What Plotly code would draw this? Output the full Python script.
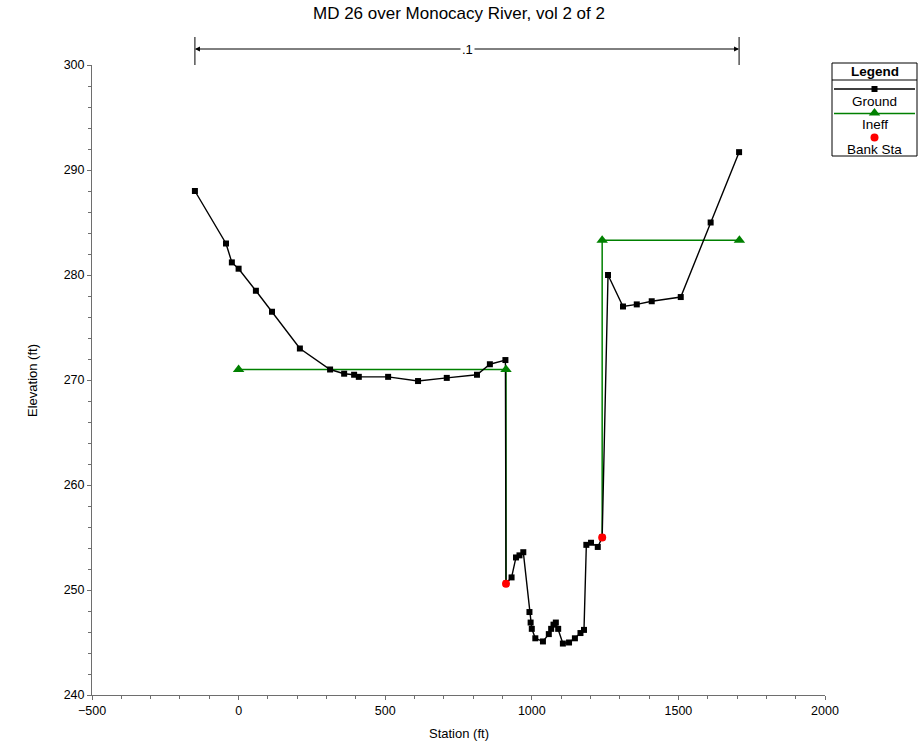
import plotly.graph_objects as go

# ---------------- data ----------------
station = [-149, -43, -23, 0, 59, 114, 209, 312, 360, 394, 410, 510, 612, 710, 813, 857, 910,
           912, 931, 946, 958, 971, 992, 996, 1000, 1012, 1038, 1058, 1066, 1074, 1082, 1090,
           1106, 1127, 1147, 1166, 1178, 1186, 1202, 1225, 1240, 1260, 1311, 1358, 1409, 1508,
           1610, 1707]
elevation = [288.0, 283.0, 281.2, 280.6, 278.5, 276.5, 273.0, 271.0, 270.6, 270.5, 270.3, 270.3,
             269.9, 270.2, 270.5, 271.5, 271.9,
             250.6, 251.2, 253.1, 253.3, 253.6, 247.9, 246.9, 246.3, 245.4, 245.1, 245.8, 246.3,
             246.7, 246.9, 246.3,
             244.9, 245.0, 245.4, 245.9, 246.2, 254.3, 254.5, 254.1, 255.0, 280.0, 277.0, 277.2,
             277.5, 277.9, 285.0, 291.7]
bank_sta = [912, 1240]
bank_elev = [250.6, 255.0]
ineff_left_sta = [0, 912]
ineff_left_elev = 271.0
ineff_right_sta = [1240, 1708]
ineff_right_elev = 283.3
mann_label = ".1"
title = "MD 26 over Monocacy River, vol 2 of 2"
x_title = "Station (ft)"
y_title = "Elevation (ft)"

# ---------------- layout helpers (pixel -> paper) ----------------
W, H = 919, 746
ML, MT, MB = 92, 65, 51
PW, PH = W - ML, H - MT - MB
PLOT_R = 825


def PX(p):
    return (p - ML) / PW


def PY(p):
    return (H - MB - p) / PH


FONT = "Liberation Sans, Arial, sans-serif"
GREEN = "#008000"

fig = go.Figure()

# ineffective flow lines (drop to bank elevation)
ix = [ineff_left_sta[0], ineff_left_sta[1], ineff_left_sta[1], None,
      ineff_right_sta[0], ineff_right_sta[0], ineff_right_sta[1]]
iy = [ineff_left_elev, ineff_left_elev, bank_elev[0], None,
      bank_elev[1], ineff_right_elev, ineff_right_elev]
fig.add_trace(go.Scatter(x=ix, y=iy, mode="lines", line=dict(color=GREEN, width=1.5),
                         showlegend=False, hoverinfo="skip"))

# ground
fig.add_trace(go.Scatter(x=station, y=elevation, mode="lines+markers",
                         line=dict(color="black", width=1.4),
                         marker=dict(symbol="square", size=6, color="black"),
                         name="Ground", showlegend=False))

# ineff markers
fig.add_trace(go.Scatter(x=ineff_left_sta + ineff_right_sta,
                         y=[ineff_left_elev] * 2 + [ineff_right_elev] * 2,
                         mode="markers",
                         marker=dict(symbol="triangle-up", size=10, color=GREEN),
                         name="Ineff", showlegend=False))

# bank stations
fig.add_trace(go.Scatter(x=bank_sta, y=bank_elev, mode="markers",
                         marker=dict(symbol="circle", size=8, color="red"),
                         name="Bank Sta", showlegend=False))

# ---------------- legend (custom) ----------------
LX0, LX1 = 832, 917
LXC = (LX0 + LX1) / 2
fig.add_trace(go.Scatter(x=[LX0 + 2, LX1 - 2], y=[89, 89], mode="lines",
                         line=dict(color="black", width=1.4), xaxis="x2", yaxis="y2",
                         showlegend=False, hoverinfo="skip"))
fig.add_trace(go.Scatter(x=[LXC], y=[89], mode="markers",
                         marker=dict(symbol="square", size=6, color="black"),
                         xaxis="x2", yaxis="y2", showlegend=False, hoverinfo="skip"))
fig.add_trace(go.Scatter(x=[LX0 + 2, LX1 - 2], y=[113.5, 113.5], mode="lines",
                         line=dict(color=GREEN, width=1.5), xaxis="x2", yaxis="y2",
                         showlegend=False, hoverinfo="skip"))
fig.add_trace(go.Scatter(x=[LXC], y=[113], mode="markers",
                         marker=dict(symbol="triangle-up", size=10, color=GREEN),
                         xaxis="x2", yaxis="y2", showlegend=False, hoverinfo="skip"))
fig.add_trace(go.Scatter(x=[LXC], y=[137.5], mode="markers",
                         marker=dict(symbol="circle", size=8, color="red"),
                         xaxis="x2", yaxis="y2", showlegend=False, hoverinfo="skip"))

shapes = [
    dict(type="rect", xref="paper", yref="paper", x0=PX(LX0), x1=PX(LX1), y0=PY(156), y1=PY(63),
         line=dict(color="black", width=1)),
    dict(type="line", xref="paper", yref="paper", x0=PX(LX0), x1=PX(LX1), y0=PY(80), y1=PY(80),
         line=dict(color="black", width=1)),
]


def txt(text, px, py, size=12, **kw):
    return dict(text=text, x=PX(px), y=PY(py), xref="paper", yref="paper", showarrow=False,
                xanchor="center", yanchor="middle",
                font=dict(size=size, color="black", family=FONT), **kw)


annotations = [
    txt("<b>Legend</b>", LXC, 71.5, size=13.5),
    txt("Ground", LXC, 101, size=13.5),
    txt("Ineff", LXC, 124.5, size=13.5),
    txt("Bank Sta", LXC, 149, size=13.5),
    txt(title, 459, 13, size=17),
    txt(x_title, 459, 733, size=13),
    txt(y_title, 32, 380, size=13, textangle=-90),
]

# Manning's n dimension line across cross section
x_first, x_last = station[0], station[-1]
x_mid = (x_first + x_last) / 2
ARROW_Y = PY(49)
for end in (x_first, x_last):
    annotations.append(dict(x=end, y=ARROW_Y, xref="x", yref="paper", ax=x_mid, axref="x",
                            ay=0, ayref="pixel", text="", showarrow=True, arrowhead=2,
                            arrowsize=1, arrowwidth=1, arrowcolor="black", standoff=0))
    shapes.append(dict(type="line", xref="x", yref="paper", x0=end, x1=end,
                       y0=PY(37), y1=PY(65), line=dict(color="black", width=1)))
annotations.append(dict(text=mann_label, x=x_mid, y=ARROW_Y, xref="x", yref="paper",
                        showarrow=False, bgcolor="white", borderpad=1,
                        xanchor="center", yanchor="middle",
                        font=dict(size=13, color="black", family=FONT)))

axis_common = dict(showgrid=False, zeroline=False, showline=True, linecolor="#6e6e6e",
                   linewidth=1, ticks="outside", ticklen=4, tickcolor="#6e6e6e",
                   tickfont=dict(size=12.5, color="black", family=FONT), mirror=False,
                   automargin=False)

fig.update_layout(
    width=W, height=H,
    margin=dict(l=ML, r=0, t=MT, b=MB, autoexpand=False),
    paper_bgcolor="white", plot_bgcolor="white",
    showlegend=False,
    xaxis=dict(range=[-500, 2000], domain=[0, PX(PLOT_R)], dtick=500,
               minor=dict(dtick=100, ticks="outside", ticklen=3, tickcolor="#6e6e6e"),
               **axis_common),
    yaxis=dict(range=[240, 300], dtick=10,
               minor=dict(dtick=2, ticks="outside", ticklen=3, tickcolor="#6e6e6e"),
               **axis_common),
    xaxis2=dict(domain=[PX(LX0), PX(LX1)], range=[LX0, LX1], visible=False, fixedrange=True,
                anchor="y2", automargin=False),
    yaxis2=dict(domain=[PY(145), PY(83)], range=[145, 83], visible=False, fixedrange=True,
                anchor="x2", automargin=False),
    shapes=shapes,
    annotations=annotations,
    font=dict(family=FONT, color="black"),
)

fig.write_html("out.html")
